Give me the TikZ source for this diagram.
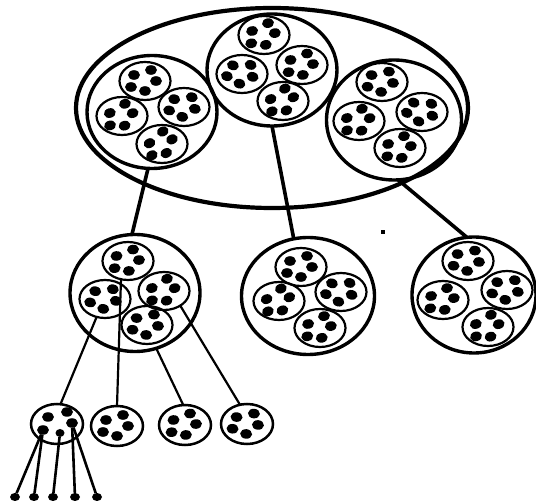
\documentclass[tikz,border=0pt]{standalone}
\usetikzlibrary{shapes.geometric}
\tikzset{
  bigell/.style={ellipse, draw, line width=4.2pt, minimum width=392pt, minimum height=200pt, inner sep=0pt, outer sep=0pt},
  clus/.style={ellipse, draw, line width=3.4pt, inner sep=0pt, outer sep=0pt},
  subell/.style={ellipse, draw, line width=2.2pt, minimum width=51pt, minimum height=38pt, inner sep=0pt, outer sep=0pt},
  leafell/.style={ellipse, draw, line width=2.5pt, minimum width=52pt, minimum height=40pt, inner sep=0pt, outer sep=0pt},
  dotn/.style={ellipse, fill, minimum width=12pt, minimum height=9.5pt, inner sep=0pt, outer sep=0pt},
  enddot/.style={ellipse, fill, minimum width=10pt, minimum height=8pt, inner sep=0pt, outer sep=0pt},
  thickcon/.style={line width=3.6pt},
  thincon/.style={line width=2.2pt},
  leafcon/.style={line width=2.6pt},
}
% #1 style, #2 name, #3 x, #4 y, #5 rotation
\newcommand\SubEll[5]{%
  \node[#1] (#2) at (#3,#4) {};
  \begin{scope}[shift={(#3,#4)}, rotate=#5]
    \foreach \dx/\dy in {-11/-6, 6/-11, 11/0, -14/6, 0/10}
      \fill (\dx,\dy) ellipse [x radius=6pt, y radius=4.8pt];
  \end{scope}}
\begin{document}
\begin{tikzpicture}[x=1pt, y=-1pt]
\useasboundingbox (0,0) rectangle (536,502);
% big ellipse
\node[bigell] (E) at (272,108) {};
% top clusters
\node[clus, minimum width=130pt, minimum height=113pt] (T1) at (152,112) {};
\node[clus, minimum width=130pt, minimum height=112pt] (T2) at (272,70) {};
\node[clus, minimum width=135pt, minimum height=120pt] (T3) at (394,120) {};
\SubEll{subell}{T1t}{145}{81}{0}
\SubEll{subell}{T1l}{122}{116}{15}
\SubEll{subell}{T1r}{184}{107}{-10}
\SubEll{subell}{T1b}{162}{144}{25}
\SubEll{subell}{T2t}{264}{35}{10}
\SubEll{subell}{T2l}{242}{74}{-15}
\SubEll{subell}{T2r}{302}{65}{5}
\SubEll{subell}{T2b}{283}{101}{20}
\SubEll{subell}{T3t}{382}{82}{-5}
\SubEll{subell}{T3l}{359}{121}{15}
\SubEll{subell}{T3r}{422}{112}{-20}
\SubEll{subell}{T3b}{400}{148}{10}
% middle clusters
\node[clus, minimum width=130pt, minimum height=117pt] (M1) at (135,293) {};
\node[clus, minimum width=133pt, minimum height=117pt] (M2) at (308,296) {};
\node[clus, minimum width=124pt, minimum height=116pt] (M3) at (474,295) {};
\SubEll{subell}{M1t}{128}{261}{5}
\SubEll{subell}{M1l}{105}{299}{-10}
\SubEll{subell}{M1r}{164}{291}{15}
\SubEll{subell}{M1b}{147}{325}{-5}
\SubEll{subell}{M2t}{301}{267}{0}
\SubEll{subell}{M2l}{279}{301}{20}
\SubEll{subell}{M2r}{341}{292}{-15}
\SubEll{subell}{M2b}{320}{328}{10}
\SubEll{subell}{M3t}{468}{261}{-5}
\SubEll{subell}{M3l}{443}{300}{10}
\SubEll{subell}{M3r}{507}{290}{-10}
\SubEll{subell}{M3b}{488}{327}{15}
% leaves
\node[leafell] (L1) at (57,424) {};
\node[dotn] (ld1) at (48,417) {};
\node[dotn] (ld2) at (67,412) {};
\node[dotn] (ld3) at (43,430) {};
\node[dotn, minimum width=9pt, minimum height=8pt] (ld4) at (60,433) {};
\node[dotn] (ld5) at (72,423) {};
\SubEll{leafell}{L2}{117}{426}{0}
\SubEll{leafell}{L3}{185}{425}{5}
\SubEll{leafell}{L4}{247}{424}{-5}
% end dots
\node[enddot] (B1) at (15,497) {};
\node[enddot] (B2) at (34,497) {};
\node[enddot] (B3) at (53,497) {};
\node[enddot] (B4) at (75,497) {};
\node[enddot] (B5) at (97,497) {};
% speck
\node[fill, minimum size=3.5pt, inner sep=0pt] (speck) at (383,232) {};
% connectors
\draw[thickcon] (T1.-94) -- (M1.93);
\draw[thickcon] (T2.-90) -- (M2.104);
\draw[thickcon] (T3.-86) -- (M3.97);
\draw[thincon] (M1l.-115) -- (L1.80);
\draw[thincon] (M1t.-111) -- (L2.north);
\draw[thincon] (M1.-69) -- (L3.95);
\draw[thincon] (M1r.-42) -- (L4.110);
\draw[leafcon] (ld3) -- (B1);
\draw[leafcon] (ld3) -- (B2);
\draw[leafcon] (ld4) -- (B3);
\draw[leafcon] (ld5) -- (B4);
\draw[leafcon] (ld5) -- (B5);
\end{tikzpicture}
\end{document}
